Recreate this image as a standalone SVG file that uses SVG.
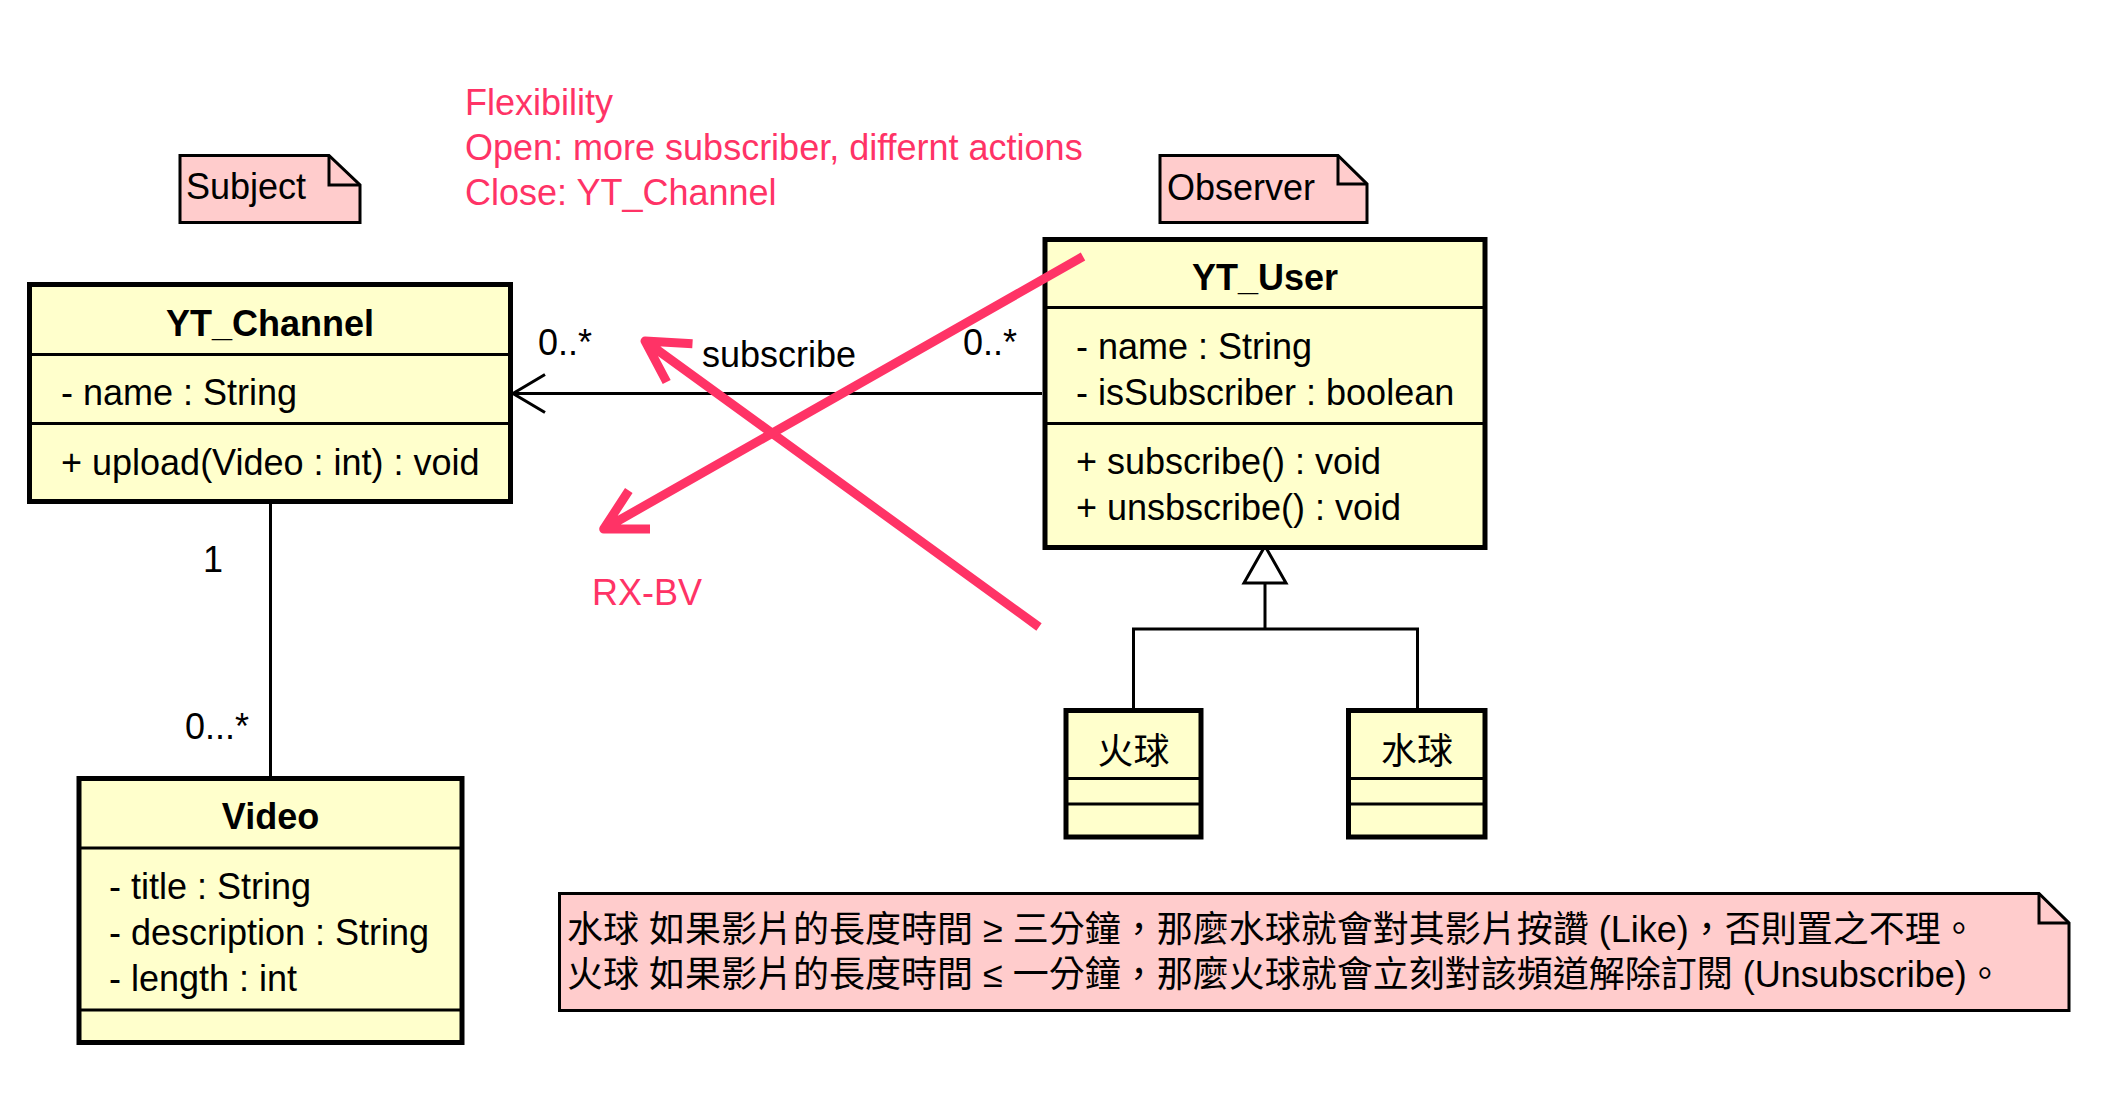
<svg xmlns="http://www.w3.org/2000/svg" width="2108" height="1117" viewBox="0 0 2108 1117">
<defs>
<style>
.t{font-family:"Liberation Sans",Arial,"Noto Sans CJK TC",sans-serif;font-size:36px;fill:#000}
.b{font-weight:bold;text-anchor:middle}
.m{text-anchor:middle}
.pk{fill:#FF3366}
.cls{fill:#FFFFCC;stroke:#000;stroke-width:5}
.sep{stroke:#000;stroke-width:3;fill:none}
.note{fill:#FFCCCC;stroke:#000;stroke-width:3;stroke-linejoin:miter}
.ln{stroke:#000;stroke-width:3;fill:none}
.red{stroke:#FF3366;stroke-width:9;fill:none;stroke-linecap:butt;stroke-linejoin:round}
</style>
<marker id="open" markerUnits="userSpaceOnUse" viewBox="-36 -24 40 48" refX="0" refY="0" markerWidth="40" markerHeight="48" orient="auto" overflow="visible">
<path d="M-32,-19 L0,0 L-32,19" fill="none" stroke="#000" stroke-width="3"/>
</marker>
<marker id="tri" markerUnits="userSpaceOnUse" viewBox="-40 -25 44 50" refX="0" refY="0" markerWidth="44" markerHeight="50" orient="auto" overflow="visible">
<path d="M0,0 L-37,-21 L-37,21 Z" fill="#FFFFFF" stroke="#000" stroke-width="3" stroke-linejoin="miter"/>
</marker>
</defs>
<rect x="0" y="0" width="2108" height="1117" fill="#FFFFFF"/>

<g id="connectors">
<path class="ln" d="M1042,393.5 H513" marker-end="url(#open)"/>
<path class="ln" d="M270.5,504 V776"/>
<path class="ln" d="M1265,629 V546" marker-end="url(#tri)"/>
<path class="ln" d="M1133.5,708 V629 H1417.5 V708"/>
<text class="t" x="538" y="355">0..*</text>
<text class="t" x="702" y="366.5">subscribe</text>
<text class="t" x="963" y="355">0..*</text>
<text class="t" x="203" y="572">1</text>
<text class="t" x="185" y="739">0...*</text>
</g>

<g id="note-subject">
<path class="note" d="M180,155.5 H329 L360,185 V222.5 H180 Z"/>
<path class="sep" d="M329,155.5 V185 H360"/>
<text class="t" x="186" y="199">Subject</text>
</g>

<g id="note-observer">
<path class="note" d="M1160,155.5 H1338 L1367,184 V222.5 H1160 Z"/>
<path class="sep" d="M1338,155.5 V184 H1367"/>
<text class="t" x="1167" y="200">Observer</text>
</g>

<g id="flexibility-text">
<text class="t pk" x="465" y="115">Flexibility</text>
<text class="t pk" x="465" y="160">Open: more subscriber, differnt actions</text>
<text class="t pk" x="465" y="205">Close: YT_Channel</text>
</g>

<g id="YT_Channel">
<rect class="cls" x="29.5" y="284.5" width="481" height="217"/>
<path class="sep" d="M29.5,354.5 H510.5 M29.5,423.5 H510.5"/>
<text class="t b" x="270" y="336">YT_Channel</text>
<text class="t" x="61" y="404.5">- name : String</text>
<text class="t" x="61" y="474.5">+ upload(Video : int) : void</text>
</g>

<g id="YT_User">
<rect class="cls" x="1045" y="239.5" width="440" height="308"/>
<path class="sep" d="M1045,307.5 H1485 M1045,423.5 H1485"/>
<text class="t b" x="1265" y="289.5">YT_User</text>
<text class="t" x="1076" y="359">- name : String</text>
<text class="t" x="1076" y="405">- isSubscriber : boolean</text>
<text class="t" x="1076" y="474">+ subscribe() : void</text>
<text class="t" x="1076" y="520">+ unsbscribe() : void</text>
</g>

<g id="Video">
<rect class="cls" x="79" y="778.5" width="383" height="264"/>
<path class="sep" d="M79,848 H462 M79,1010 H462"/>
<text class="t b" x="270.5" y="829">Video</text>
<text class="t" x="109" y="899">- title : String</text>
<text class="t" x="109" y="945">- description : String</text>
<text class="t" x="109" y="991">- length : int</text>
</g>

<g id="FireBall">
<rect class="cls" x="1066" y="710.5" width="135" height="126.5"/>
<path class="sep" d="M1066,778.5 H1201 M1066,804 H1201"/>
<text class="t m" x="1133.5" y="764">火球</text>
</g>

<g id="WaterBall">
<rect class="cls" x="1348.5" y="710.5" width="136.5" height="126.5"/>
<path class="sep" d="M1348.5,778.5 H1485 M1348.5,804 H1485"/>
<text class="t m" x="1417" y="764">水球</text>
</g>

<g id="note-rules">
<path class="note" d="M559.5,893.5 H2039 L2069,923 V1010.5 H559.5 Z"/>
<path class="sep" d="M2039,893.5 V923 H2069"/>
<text class="t" x="567" y="942">水球 如果影片的長度時間 ≥ 三分鐘，那麼水球就會對其影片按讚 (Like)，否則置之不理。</text>
<text class="t" x="567" y="987">火球 如果影片的長度時間 ≤ 一分鐘，那麼火球就會立刻對該頻道解除訂閱 (Unsubscribe)。</text>
</g>

<g id="annotation-arrows">
<path class="red" d="M1039,627 L645,341 M692.5,343.7 L645,341 L666.7,382"/>
<path class="red" d="M1083,256.5 L603.7,529 M650,529 L603.7,529 L628.8,490.5"/>
<text class="t pk" x="592" y="605">RX-BV</text>
</g>
</svg>
